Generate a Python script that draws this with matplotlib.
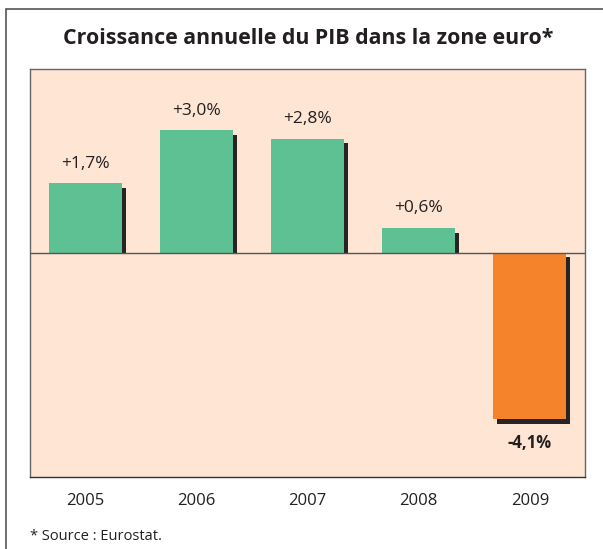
import matplotlib
matplotlib.use("Agg")
import matplotlib.pyplot as plt
from matplotlib.patches import Rectangle

# Données (Eurostat)
annees = ["2005", "2006", "2007", "2008", "2009"]
croissance = [1.7, 3.0, 2.8, 0.6, -4.1]
etiquettes = ["+1,7%", "+3,0%", "+2,8%", "+0,6%", "-4,1%"]

titre = "Croissance annuelle du PIB dans la zone euro*"
note = "* Source : Eurostat."

VERT = "#5ec194"
ORANGE = "#f5832c"
FOND = "#fee5d4"
OMBRE = "#262424"
TEXTE = "#231f20"

plt.rcParams["font.family"] = ["Open Sans", "DejaVu Sans"]

W, H = 603, 549
fig = plt.figure(figsize=(W / 100, H / 100), dpi=100)

# cadre extérieur (coupé à droite et en bas)
fig.patches.append(Rectangle((5.5 / W, -0.05), 1.2, (H - 9) / H + 0.05,
                             transform=fig.transFigure, fill=False,
                             edgecolor="#555555", linewidth=1.2))

ax = fig.add_axes([30 / W, (H - 477.3) / H, 555.3 / W, 408.3 / H])
ax.set_facecolor(FOND)

x = list(range(len(annees)))
couleurs = [VERT if v >= 0 else ORANGE for v in croissance]
largeur = 0.66

# ombre portée : décalée de ~3.5 px à droite et 4 px vers le bas
dx = 3.5 / 111
dy = 4.5 / 40.7
ombre_bas = [0 if v >= 0 else -dy for v in croissance]
ombre_h = [v - dy if v >= 0 else v for v in croissance]
ax.bar([i + dx for i in x], ombre_h, bottom=ombre_bas, width=largeur,
       color=OMBRE, zorder=2)
ax.bar(x, croissance, width=largeur, color=couleurs, zorder=3)

ax.axhline(0, color="#555555", linewidth=1.0, zorder=4)

for i, v in enumerate(croissance):
    if v >= 0:
        ax.annotate(etiquettes[i], (i, v), xytext=(0, 8.5), textcoords="offset points",
                    ha="center", va="bottom", fontsize=12.5, color=TEXTE)
    else:
        ax.annotate(etiquettes[i], (i, v), xytext=(0, -10.5), textcoords="offset points",
                    ha="center", va="top", fontsize=12, color=TEXTE,
                    fontweight="bold")

ax.set_xlim(-0.5, 4.5)
ax.set_ylim(-5.52, 4.51)
ax.set_xticks(x)
ax.set_xticklabels(annees, fontsize=12, color=TEXTE)
ax.tick_params(axis="x", length=0, pad=11)
ax.set_yticks([])
for s in ax.spines.values():
    s.set_color("#666666")
    s.set_linewidth(1.0)
ax.spines["bottom"].set_color("#333333")

fig.text(307.7 / W, 1 - 39 / H, titre, ha="center", va="center",
         fontsize=15.4, fontweight="bold", color=TEXTE)
fig.text(30.5 / W, 1 - 537 / H, note, ha="left", va="center",
         fontsize=10.5, color=TEXTE)

fig.savefig("out.png", dpi=100)
